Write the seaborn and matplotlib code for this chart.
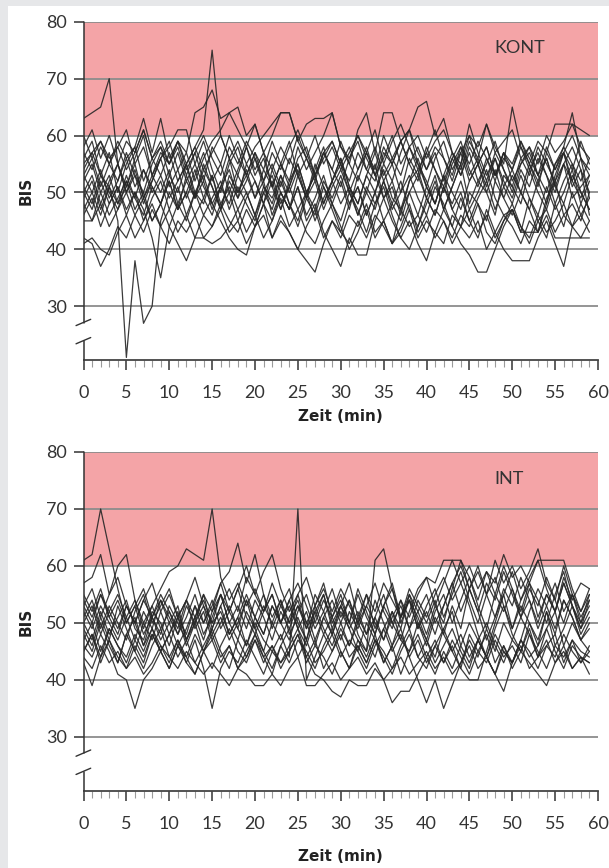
import matplotlib
matplotlib.use("Agg")
import matplotlib.pyplot as plt
from matplotlib.patches import Rectangle
from matplotlib.ticker import MultipleLocator
import seaborn as sns
import pandas as pd

minutes = list(range(60))

# KONT group, one list per patient (BIS per minute)
kont_p01 = [63, 64, 65, 70, 55, 51, 56, 60, 53, 57, 55, 59, 54, 57, 52, 58, 55, 60, 56, 53,
            57, 54, 59, 55, 51, 56, 58, 53, 57, 54, 59, 55, 52, 57, 54, 60, 56, 53, 58, 55,
            51, 56, 59, 54, 57, 52, 55, 58, 53, 56, 54, 59, 55, 51, 57, 54, 58, 55, 52, 56]
kont_p02 = [56, 59, 53, 57, 50, 55, 58, 52, 56, 53, 57, 52, 55, 58, 61, 75, 60, 56, 53, 58,
            54, 57, 51, 55, 59, 53, 56, 52, 57, 54, 51, 56, 59, 54, 52, 57, 55, 50, 56, 53,
            58, 54, 51, 56, 53, 57, 52, 55, 59, 54, 50, 55, 57, 53, 56, 51, 55, 58, 54, 50]
kont_p03 = [58, 61, 56, 60, 55, 59, 57, 61, 56, 58, 55, 59, 57, 64, 65, 68, 63, 64, 61, 58,
            62, 57, 60, 64, 64, 59, 62, 63, 63, 64, 58, 56, 60, 57, 61, 55, 59, 62, 58, 60,
            56, 59, 61, 57, 55, 60, 58, 62, 57, 59, 61, 56, 58, 55, 60, 57, 59, 62, 58, 56]
kont_p04 = [55, 57, 53, 51, 45, 21, 38, 27, 30, 45, 50, 47, 53, 49, 54, 51, 47, 52, 49, 55,
            52, 48, 54, 50, 47, 53, 49, 55, 51, 48, 52, 47, 53, 50, 55, 49, 51, 46, 52, 54,
            49, 53, 47, 51, 55, 48, 52, 50, 46, 53, 51, 48, 54, 50, 47, 52, 55, 49, 51, 53]
kont_p05 = [42, 41, 37, 40, 44, 42, 46, 43, 47, 44, 41, 45, 43, 46, 42, 44, 47, 43, 45, 41,
            44, 46, 42, 45, 43, 40, 44, 47, 42, 45, 43, 41, 45, 42, 46, 44, 41, 43, 47, 42,
            45, 43, 41, 46, 44, 42, 45, 40, 43, 46, 44, 41, 45, 43, 46, 42, 42, 42, 42, 42]
kont_p06 = [50, 47, 52, 48, 51, 46, 50, 47, 42, 35, 44, 48, 45, 50, 46, 49, 52, 47, 51, 48,
            45, 50, 47, 52, 48, 44, 49, 46, 51, 47, 43, 48, 51, 46, 50, 45, 48, 52, 47, 44,
            49, 46, 51, 47, 44, 50, 48, 45, 52, 49, 46, 50, 47, 43, 49, 52, 46, 48, 45, 50]
kont_p07 = [48, 45, 50, 46, 49, 52, 47, 50, 45, 48, 44, 41, 38, 42, 46, 44, 48, 45, 43, 47,
            44, 48, 42, 46, 43, 40, 38, 36, 41, 45, 42, 46, 44, 48, 43, 45, 41, 47, 44, 46,
            43, 47, 45, 42, 46, 44, 48, 43, 41, 45, 47, 44, 42, 46, 43, 45, 48, 44, 46, 43]
kont_p08 = [52, 55, 50, 53, 48, 51, 55, 49, 53, 50, 54, 48, 52, 49, 55, 51, 47, 53, 50, 54,
            49, 52, 46, 50, 47, 51, 45, 48, 43, 40, 37, 42, 39, 39, 45, 49, 52, 47, 50, 46,
            51, 48, 53, 47, 50, 45, 49, 52, 47, 51, 48, 53, 49, 46, 51, 47, 50, 54, 48, 52]
kont_p09 = [46, 49, 44, 48, 51, 47, 50, 45, 49, 52, 47, 51, 46, 50, 48, 53, 47, 50, 45, 49,
            52, 48, 45, 50, 47, 51, 46, 49, 53, 48, 45, 50, 47, 43, 48, 51, 46, 42, 45, 41,
            38, 43, 47, 44, 41, 39, 36, 36, 40, 44, 47, 43, 49, 45, 42, 48, 44, 50, 46, 49]
kont_p10 = [53, 50, 54, 49, 52, 56, 51, 54, 50, 53, 49, 52, 55, 50, 53, 48, 51, 54, 49, 52,
            56, 51, 48, 53, 50, 54, 49, 52, 47, 51, 54, 50, 46, 51, 48, 52, 47, 50, 53, 49,
            46, 51, 48, 44, 49, 45, 42, 47, 43, 40, 38, 38, 38, 42, 45, 41, 37, 44, 48, 45]
kont_p11 = [57, 54, 58, 55, 59, 56, 58, 63, 57, 63, 56, 59, 55, 58, 54, 57, 60, 56, 59, 55,
            58, 60, 62, 64, 64, 59, 56, 60, 55, 58, 54, 57, 60, 56, 53, 58, 55, 59, 61, 57,
            54, 58, 56, 52, 57, 60, 55, 58, 53, 57, 55, 59, 56, 53, 58, 54, 57, 60, 56, 54]
kont_p12 = [54, 57, 59, 56, 58, 61, 55, 58, 53, 56, 59, 54, 57, 52, 56, 59, 61, 64, 65, 60,
            62, 57, 54, 58, 55, 60, 56, 53, 57, 59, 55, 52, 57, 54, 58, 53, 56, 59, 55, 52,
            57, 54, 50, 55, 58, 53, 56, 52, 57, 54, 51, 56, 53, 58, 55, 52, 57, 54, 59, 55]
kont_p13 = [50, 53, 48, 52, 55, 50, 54, 49, 52, 56, 51, 54, 49, 53, 57, 52, 55, 50, 54, 58,
            53, 56, 51, 55, 52, 58, 54, 57, 60, 64, 58, 55, 61, 64, 57, 64, 64, 59, 55, 58,
            54, 57, 52, 56, 59, 54, 51, 56, 53, 57, 52, 55, 58, 53, 50, 55, 57, 52, 56, 53]
kont_p14 = [51, 48, 53, 50, 47, 52, 49, 54, 51, 48, 53, 50, 55, 49, 52, 47, 51, 56, 50, 53,
            49, 54, 51, 47, 52, 55, 50, 53, 48, 52, 56, 51, 48, 53, 57, 52, 55, 59, 61, 65,
            66, 60, 63, 57, 53, 58, 55, 51, 56, 52, 49, 54, 51, 56, 53, 48, 52, 55, 50, 47]
kont_p15 = [47, 50, 46, 51, 48, 53, 49, 46, 51, 48, 52, 47, 50, 54, 49, 46, 51, 48, 53, 50,
            46, 51, 49, 53, 48, 45, 50, 47, 52, 49, 53, 48, 51, 46, 50, 54, 49, 47, 52, 56,
            51, 48, 53, 57, 54, 59, 56, 62, 58, 55, 65, 58, 54, 57, 53, 50, 55, 52, 49, 53]
kont_p16 = [60, 56, 59, 55, 58, 54, 57, 61, 56, 59, 55, 58, 53, 57, 60, 56, 53, 58, 55, 59,
            56, 52, 57, 54, 58, 61, 57, 53, 56, 59, 55, 58, 54, 57, 53, 56, 60, 55, 58, 54,
            57, 61, 56, 53, 58, 55, 59, 56, 52, 57, 54, 58, 55, 59, 57, 62, 62, 62, 61, 60]
kont_p17 = [45, 45, 48, 44, 47, 50, 46, 49, 45, 48, 52, 47, 50, 46, 49, 53, 48, 51, 47, 50,
            46, 50, 53, 48, 51, 47, 50, 45, 49, 52, 48, 51, 46, 50, 47, 52, 48, 45, 50, 53,
            49, 46, 51, 48, 52, 47, 50, 54, 49, 46, 47, 43, 43, 43, 48, 55, 58, 64, 56, 49]
kont_p18 = [41, 42, 40, 39, 43, 46, 42, 45, 48, 44, 47, 43, 46, 42, 42, 41, 42, 44, 47, 43,
            46, 42, 45, 49, 44, 47, 43, 41, 45, 48, 44, 40, 43, 47, 42, 45, 41, 44, 48, 43,
            46, 42, 45, 41, 44, 47, 43, 46, 42, 45, 48, 44, 41, 45, 47, 43, 46, 44, 42, 45]
kont_p19 = [49, 52, 47, 51, 55, 50, 53, 48, 52, 56, 58, 61, 61, 55, 51, 48, 45, 42, 40, 39,
            44, 48, 52, 47, 51, 55, 50, 53, 48, 52, 56, 51, 48, 53, 50, 55, 52, 57, 61, 55,
            52, 48, 53, 50, 47, 52, 55, 50, 54, 49, 53, 50, 47, 52, 56, 51, 48, 53, 50, 47]
kont_p20 = [53, 56, 51, 55, 52, 57, 53, 50, 55, 58, 53, 57, 52, 55, 59, 54, 50, 55, 58, 53,
            57, 52, 55, 51, 56, 53, 49, 54, 58, 52, 55, 50, 54, 58, 53, 49, 45, 42, 40, 44,
            48, 52, 47, 51, 55, 62, 57, 53, 56, 51, 54, 50, 55, 52, 48, 53, 57, 51, 54, 46]

# INT group
int_p01 = [61, 62, 70, 63, 56, 50, 53, 48, 51, 47, 50, 46, 49, 53, 48, 51, 55, 50, 47, 52,
           49, 45, 50, 54, 48, 51, 47, 53, 49, 46, 50, 54, 48, 45, 51, 47, 52, 49, 55, 50,
           46, 51, 48, 53, 49, 56, 52, 47, 51, 55, 49, 53, 50, 46, 52, 48, 54, 51, 47, 50]
int_p02 = [57, 58, 62, 55, 60, 62, 54, 50, 53, 49, 52, 48, 51, 55, 50, 53, 57, 52, 49, 54,
           51, 55, 49, 53, 56, 50, 47, 52, 55, 49, 53, 57, 51, 48, 54, 50, 46, 51, 55, 52,
           48, 53, 50, 56, 61, 58, 54, 59, 55, 60, 56, 52, 57, 54, 50, 55, 59, 53, 49, 54]
int_p03 = [43, 39, 44, 47, 43, 48, 45, 42, 46, 49, 44, 47, 43, 41, 45, 48, 44, 46, 42, 45,
           48, 44, 41, 46, 43, 47, 45, 42, 46, 49, 45, 42, 47, 44, 48, 43, 46, 41, 45, 48,
           44, 47, 43, 46, 42, 48, 45, 43, 47, 44, 46, 43, 48, 45, 42, 46, 44, 47, 43, 45]
int_p04 = [46, 44, 48, 45, 41, 40, 35, 40, 42, 45, 48, 44, 47, 43, 46, 49, 45, 42, 47, 44,
           48, 45, 42, 46, 49, 44, 47, 43, 45, 48, 44, 47, 45, 42, 46, 49, 45, 48, 44, 47,
           43, 46, 49, 45, 48, 44, 47, 50, 46, 43, 47, 45, 49, 44, 46, 48, 43, 47, 45, 44]
int_p05 = [52, 49, 53, 50, 47, 51, 54, 49, 53, 56, 59, 60, 63, 62, 61, 70, 58, 54, 57, 53,
           56, 52, 55, 50, 54, 57, 53, 49, 52, 56, 51, 54, 50, 53, 57, 52, 49, 54, 51, 55,
           58, 53, 57, 61, 61, 56, 52, 57, 54, 59, 55, 51, 56, 53, 58, 54, 50, 55, 52, 56]
int_p06 = [45, 48, 44, 49, 46, 43, 47, 44, 48, 45, 42, 46, 43, 47, 42, 35, 42, 45, 43, 47,
           44, 41, 45, 43, 46, 49, 44, 47, 42, 45, 48, 44, 46, 43, 47, 45, 42, 46, 49, 44,
           47, 43, 46, 49, 45, 42, 47, 44, 48, 45, 43, 47, 44, 46, 49, 45, 42, 46, 44, 43]
int_p07 = [50, 53, 48, 52, 55, 51, 47, 52, 49, 54, 51, 48, 53, 50, 55, 52, 57, 59, 64, 57,
           62, 55, 51, 54, 50, 53, 49, 55, 52, 48, 53, 50, 55, 51, 48, 53, 56, 50, 54, 51,
           47, 52, 55, 50, 54, 58, 53, 49, 55, 52, 56, 51, 54, 49, 53, 57, 52, 55, 50, 53]
int_p08 = [53, 50, 55, 51, 48, 53, 50, 46, 51, 54, 50, 53, 47, 51, 55, 49, 53, 56, 52, 58,
           55, 59, 62, 56, 52, 55, 50, 53, 57, 51, 54, 50, 56, 52, 48, 53, 57, 51, 54, 49,
           53, 56, 51, 55, 59, 54, 50, 55, 58, 53, 49, 54, 57, 51, 55, 52, 57, 53, 50, 55]
int_p09 = [48, 45, 50, 46, 43, 48, 51, 46, 49, 45, 48, 52, 47, 50, 45, 49, 53, 48, 51, 46,
           50, 47, 45, 48, 44, 70, 40, 44, 48, 45, 49, 46, 50, 47, 44, 49, 52, 47, 45, 50,
           47, 44, 49, 52, 46, 50, 47, 44, 49, 53, 48, 45, 50, 47, 52, 46, 49, 53, 48, 51]
int_p10 = [44, 42, 46, 43, 45, 42, 44, 41, 43, 46, 44, 42, 45, 43, 41, 43, 41, 39, 42, 41,
           39, 39, 41, 39, 42, 44, 39, 39, 41, 43, 40, 42, 44, 41, 43, 40, 42, 44, 41, 43,
           45, 42, 44, 41, 43, 46, 42, 44, 41, 45, 43, 46, 42, 44, 47, 43, 45, 42, 44, 43]
int_p11 = [47, 50, 45, 49, 46, 44, 48, 45, 49, 46, 43, 47, 44, 48, 45, 42, 46, 49, 45, 43,
           47, 44, 46, 43, 45, 48, 44, 41, 40, 38, 37, 40, 39, 39, 42, 40, 36, 38, 38, 41,
           44, 41, 45, 42, 46, 43, 47, 44, 41, 46, 43, 47, 45, 42, 46, 44, 48, 45, 43, 46]
int_p12 = [55, 52, 56, 51, 54, 50, 53, 56, 51, 55, 52, 49, 54, 51, 47, 52, 55, 50, 53, 49,
           54, 51, 47, 52, 49, 53, 50, 46, 51, 48, 52, 49, 45, 50, 47, 43, 46, 49, 44, 40,
           36, 40, 35, 39, 43, 47, 44, 49, 45, 50, 47, 51, 48, 44, 49, 52, 46, 50, 47, 49]
int_p13 = [49, 46, 51, 47, 53, 49, 45, 50, 47, 52, 48, 51, 46, 50, 53, 48, 51, 47, 50, 54,
           49, 53, 50, 47, 51, 54, 49, 52, 48, 51, 55, 50, 47, 45, 61, 63, 56, 51, 54, 49,
           52, 48, 53, 57, 52, 56, 60, 55, 51, 56, 53, 58, 54, 50, 55, 52, 57, 53, 49, 52]
int_p14 = [51, 54, 49, 53, 50, 47, 52, 55, 50, 53, 56, 51, 48, 53, 50, 54, 49, 52, 56, 51,
           48, 52, 55, 50, 53, 49, 52, 47, 51, 54, 50, 46, 51, 55, 49, 53, 50, 47, 52, 56,
           58, 57, 61, 61, 57, 53, 48, 44, 41, 38, 43, 47, 52, 56, 53, 49, 54, 51, 47, 45]
int_p15 = [54, 51, 55, 52, 49, 53, 50, 54, 51, 48, 53, 50, 47, 51, 54, 50, 52, 48, 51, 55,
           51, 48, 53, 50, 54, 49, 46, 51, 55, 50, 53, 49, 52, 48, 51, 55, 50, 53, 49, 54,
           51, 55, 58, 54, 57, 60, 56, 59, 57, 62, 58, 60, 57, 61, 61, 61, 61, 56, 52, 55]
int_p16 = [50, 47, 52, 48, 51, 54, 49, 47, 52, 50, 46, 51, 54, 49, 52, 47, 50, 53, 49, 46,
           51, 48, 53, 50, 47, 52, 55, 50, 54, 51, 47, 52, 49, 53, 50, 47, 51, 54, 49, 52,
           55, 50, 53, 57, 60, 56, 59, 55, 61, 57, 60, 56, 59, 63, 57, 54, 60, 55, 51, 54]
int_p17 = [45, 48, 43, 47, 44, 42, 46, 43, 48, 45, 42, 46, 44, 41, 45, 47, 43, 46, 42, 44,
           47, 43, 46, 42, 45, 48, 43, 46, 44, 41, 45, 42, 46, 43, 47, 44, 41, 45, 48, 44,
           42, 46, 43, 47, 44, 41, 45, 48, 43, 46, 42, 45, 43, 41, 39, 43, 46, 42, 44, 41]
int_p18 = [53, 56, 51, 55, 58, 53, 50, 54, 57, 52, 55, 51, 54, 58, 53, 50, 55, 52, 56, 60,
           55, 52, 57, 53, 50, 55, 58, 53, 56, 52, 56, 53, 50, 55, 52, 57, 54, 51, 56, 53,
           50, 54, 48, 45, 42, 40, 40, 45, 50, 55, 59, 54, 58, 61, 56, 52, 58, 54, 57, 56]

kont = [kont_p01, kont_p02, kont_p03, kont_p04, kont_p05, kont_p06, kont_p07, kont_p08, kont_p09, kont_p10,
        kont_p11, kont_p12, kont_p13, kont_p14, kont_p15, kont_p16, kont_p17, kont_p18, kont_p19, kont_p20]
intv = [int_p01, int_p02, int_p03, int_p04, int_p05, int_p06, int_p07, int_p08, int_p09,
        int_p10, int_p11, int_p12, int_p13, int_p14, int_p15, int_p16, int_p17, int_p18]


def to_frame(series):
    rows = []
    for pid, vals in enumerate(series):
        assert len(vals) == len(minutes)
        for t, v in zip(minutes, vals):
            rows.append((pid, t, v))
    return pd.DataFrame(rows, columns=["pid", "Zeit", "BIS"])


sns.set_style("white")
plt.rcParams["font.family"] = ["Lato", "DejaVu Sans"]

fig = plt.figure(figsize=(6.09, 8.68), dpi=100)
fig.patch.set_facecolor("#e6e7e9")
fig.patches.append(Rectangle((8 / 609, 0), 1 - 8 / 609, 1 - 6 / 868, transform=fig.transFigure,
                             facecolor="white", edgecolor="none", zorder=-10))

ax_top = fig.add_axes([83.5 / 609, 1 - 360.3 / 868, 514.5 / 609, 338.6 / 868])
ax_bot = fig.add_axes([83.5 / 609, 1 - 791 / 868, 514.5 / 609, 339 / 868])

for ax, series, label, xlab_y in ((ax_top, kont, "KONT", -0.145), (ax_bot, intv, "INT", -0.17)):
    ax.set_facecolor("none")
    df = to_frame(series)
    ax.axhspan(60, 80, color="#f4a4a7", lw=0, zorder=0.1)
    sns.lineplot(data=df, x="Zeit", y="BIS", units="pid", estimator=None, color="#262626",
                 lw=0.9, alpha=0.9, legend=False, ax=ax, zorder=3)
    ax.set_xlim(0, 60)
    ax.set_ylim(20.5, 80)
    ax.set_yticks([30, 40, 50, 60, 70, 80])
    ax.xaxis.set_major_locator(MultipleLocator(5))
    ax.xaxis.set_minor_locator(MultipleLocator(1))
    ax.yaxis.grid(True, color="#8c8c8c", lw=1.3)
    ax.xaxis.grid(False)
    ax.set_axisbelow(True)
    for s in ("top", "right", "left"):
        ax.spines[s].set_visible(False)
    ax.spines["bottom"].set_color("#444444")
    ax.spines["bottom"].set_linewidth(1.3)
    ax.tick_params(axis="x", which="major", direction="out", length=7, width=1.1, bottom=True,
                   color="#333333", labelsize=13, labelcolor="#333333", pad=11)
    ax.tick_params(axis="x", which="minor", direction="out", length=5, width=0.8, bottom=True,
                   color="#9a9a9a")
    ax.tick_params(axis="y", which="major", direction="out", length=7, width=1.1,
                   color="#333333", labelsize=13, labelcolor="#333333", pad=5, left=True)
    # broken y axis
    ax.plot([0, 0], [27.1, 80], color="#333333", lw=1.1, clip_on=False, zorder=4)
    ax.plot([0, 0], [20.5, 23.9], color="#333333", lw=1.1, clip_on=False, zorder=4)
    ax.plot([-0.87, 0.84], [26.6, 27.7], color="#333333", lw=1.0, clip_on=False, zorder=4)
    ax.plot([-0.87, 0.84], [23.4, 24.5], color="#333333", lw=1.0, clip_on=False, zorder=4)
    ax.text(47.9, 75.3, label, ha="left", va="center", fontsize=13, color="#333333")
    ax.set_ylabel("BIS", fontsize=11, fontweight="bold", family="DejaVu Sans", color="#222222")
    ax.set_xlabel("Zeit (min)", fontsize=11, fontweight="bold", family="DejaVu Sans", color="#222222")
    ax.yaxis.set_label_coords(-0.096, 0.5)
    ax.xaxis.set_label_coords(0.5, xlab_y)

fig.savefig("out.png", dpi=100, facecolor=fig.get_facecolor())
